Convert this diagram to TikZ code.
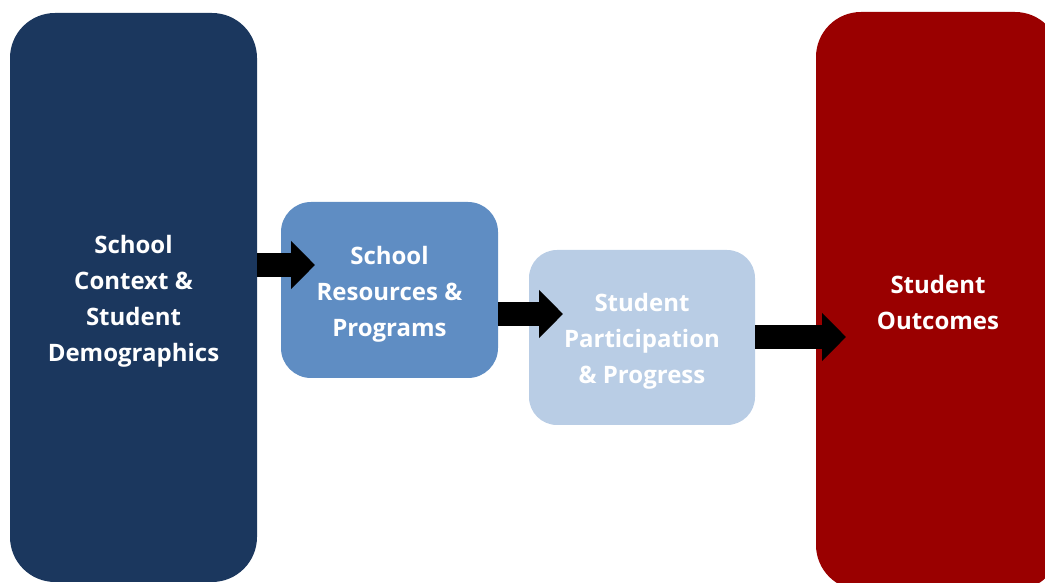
\documentclass[tikz,border=0pt]{standalone}
\usepackage{fontspec}
\setmainfont{Open Sans}
\usetikzlibrary{arrows.meta}
\definecolor{darkbox}{HTML}{1B375E}
\definecolor{midbox}{HTML}{5F8DC3}
\definecolor{lightbox}{HTML}{B9CDE5}
\definecolor{redbox}{HTML}{9A0000}
\newcommand\stagetext[1]{\raisebox{-3pt}[\height][\depth]{\begin{tabular}{@{}c@{}}#1\end{tabular}}}
\tikzset{
  stage/.style={rectangle, inner sep=0pt, text=white,
    font=\bfseries\fontsize{24}{36}\selectfont},
  flowarrow/.style={draw=black, line width=24pt,
    -{Triangle[length=24pt,width=47pt]}}
}
\begin{document}
\begin{tikzpicture}[x=1pt,y=1pt]
\useasboundingbox (0,0) rectangle (1045,583);
\clip (0,0) rectangle (1045,583);
\node[stage, fill=darkbox, rounded corners=45pt, minimum width=247pt, minimum height=569pt] (b1) at (133.5,285.5)
  {\stagetext{School\\Context \&\\Student\\Demographics}};
\node[stage, fill=midbox, rounded corners=30pt, minimum width=217pt, minimum height=176pt] (b2) at (389.5,293)
  {\stagetext{School\\Resources \&\\Programs}};
\node[stage, fill=lightbox, rounded corners=28pt, minimum width=226pt, minimum height=175pt] (b3) at (642,245.5)
  {\stagetext{Student\\Participation\\\& Progress}};
\node[stage, fill=redbox, rounded corners=45pt, minimum width=244pt, minimum height=578pt] (b4) at (938,282)
  {\stagetext{Student\\Outcomes}};
\coordinate (t1) at (315,318);
\coordinate (t2) at (563,269);
\coordinate (t3) at (846,246);
\draw[flowarrow] (b1.east |- t1) -- (t1);
\draw[flowarrow] (b2.east |- t2) -- (t2);
\draw[flowarrow] (b3.east |- t3) -- (t3);
\end{tikzpicture}
\end{document}
